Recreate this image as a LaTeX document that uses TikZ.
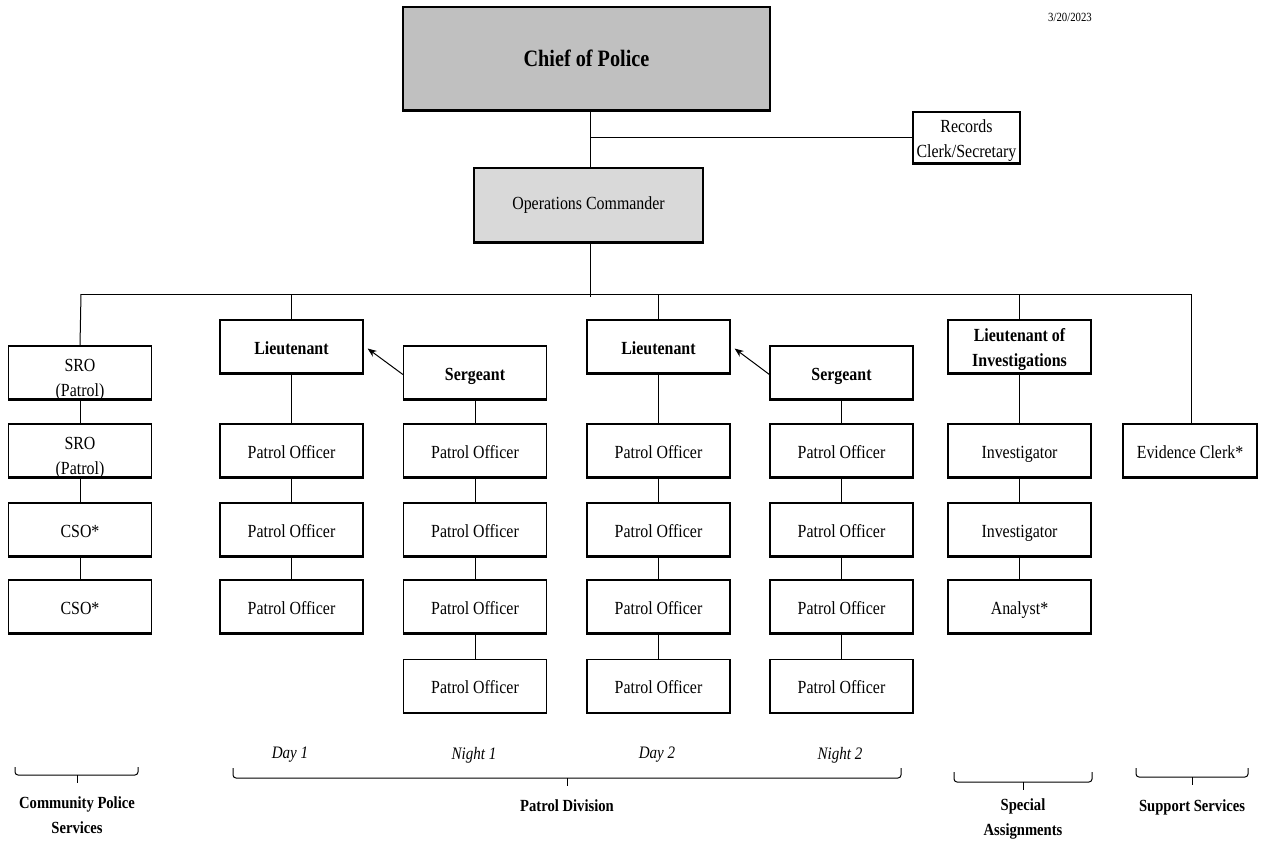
\documentclass[tikz,border=0pt]{standalone}
\usepackage{fontspec}
\setmainfont{Liberation Serif}[FakeStretch=0.86]
\usetikzlibrary{arrows.meta}
\definecolor{chiefgray}{HTML}{C0C0C0}
\definecolor{opsgray}{HTML}{D9D9D9}
\tikzset{
  box/.style={draw, line width=1.2pt, minimum width=143pt, minimum height=53pt,
    inner sep=0pt, align=center, text height=17pt, text depth=2pt,
    font=\fontsize{18.5}{24}\selectfont,
    append after command={(\tikzlastnode.south west) edge[line width=2.6pt] (\tikzlastnode.south east)}},
  bbox/.style={box, font=\fontsize{18.5}{24}\selectfont\bfseries},
  boxtext/.style={inner sep=0pt, align=center, font=\fontsize{18.5}{25}\selectfont},
  conn/.style={line width=1pt},
  arr/.style={line width=1pt, -{Stealth[length=9pt,width=7pt]}},
  brace/.style={line width=1pt, rounded corners=3pt},
  shiftlbl/.style={font=\fontsize{17.5}{18}\selectfont\itshape},
  grouplbl/.style={align=center, font=\fontsize{17}{25}\selectfont\bfseries},
}
\begin{document}
\begin{tikzpicture}[x=1pt,y=-1pt]
\useasboundingbox (0,0) rectangle (1263,846);

% top
\node[draw, line width=1.5pt, fill=chiefgray, minimum width=367pt, minimum height=103pt,
  font=\fontsize{23.5}{26}\selectfont\bfseries,
  append after command={(\tikzlastnode.south west) edge[line width=2.6pt] (\tikzlastnode.south east)}]
  (chief) at (586.5,58.5) {Chief of Police};
\node[draw, line width=1.5pt, fill=opsgray, minimum width=229pt, minimum height=74pt,
  font=\fontsize{18.5}{22}\selectfont,
  append after command={(\tikzlastnode.south west) edge[line width=2.6pt] (\tikzlastnode.south east)}]
  (ops) at (588.5,205) {Operations Commander};
\node[box, minimum width=107pt, minimum height=51pt] (records) at (966.5,137.5) {};
\node[boxtext] (recordst) at (966.5,141) {Records\\Clerk/Secretary};
\node[font=\fontsize{12.5}{14}\selectfont] (date) at (1070,17) {3/20/2023};

\coordinate (rj) at (590,140);
\draw[conn] (590,110) -- (590,168);
\draw[conn] (records.west) -- (records.west -| rj);

% bus
\coordinate (bL) at (81,294);
\coordinate (bR) at (1191,294);
\draw[conn] (ops.south -| rj) -- (590,297);
\draw[conn] (bL) -- (bR);

% community column
\node[box] (sro1) at (80,372.5) {};
\node[boxtext] (sro1t) at (80,380) {SRO\\(Patrol)};
\node[box] (sro2) at (80,450.5) {};
\node[boxtext] (sro2t) at (80,458) {SRO\\(Patrol)};
\node[box] (cso1) at (80,529.5) {CSO*};
\node[box] (cso2) at (80,606.5) {CSO*};
\draw[conn] (bL) -- (sro1.north);
\draw[conn] (sro1.south) -- (sro2.north);
\draw[conn] (sro2.south) -- (cso1.north);
\draw[conn] (cso1.south) -- (cso2.north);

% Lieutenant 1
\node[bbox] (lt1) at (291.5,346.5) {Lieutenant};
\node[box] (lt1a) at (291.5,450.5) {Patrol Officer};
\node[box] (lt1b) at (291.5,529.5) {Patrol Officer};
\node[box] (lt1c) at (291.5,606.5) {Patrol Officer};
\draw[conn] (lt1.north |- bL) -- (lt1.north);
\draw[conn] (lt1.south) -- (lt1a.north);
\draw[conn] (lt1a.south) -- (lt1b.north);
\draw[conn] (lt1b.south) -- (lt1c.north);

% Sergeant 1
\node[bbox] (sg1) at (475,372.5) {Sergeant};
\node[box] (sg1a) at (475,450.5) {Patrol Officer};
\node[box] (sg1b) at (475,529.5) {Patrol Officer};
\node[box] (sg1c) at (475,606.5) {Patrol Officer};
\node[box] (sg1d) at (475,686) {Patrol Officer};
\draw[conn] (sg1.south) -- (sg1a.north);
\draw[conn] (sg1a.south) -- (sg1b.north);
\draw[conn] (sg1b.south) -- (sg1c.north);
\draw[conn] (sg1c.south) -- (sg1d.north);
\draw[arr] ([yshift=-2pt]sg1.west) -- ([xshift=4pt,yshift=-2pt]lt1.east);

% Lieutenant 2
\node[bbox] (lt2) at (658.5,346.5) {Lieutenant};
\node[box] (lt2a) at (658.5,450.5) {Patrol Officer};
\node[box] (lt2b) at (658.5,529.5) {Patrol Officer};
\node[box] (lt2c) at (658.5,606.5) {Patrol Officer};
\node[box] (lt2d) at (658.5,686) {Patrol Officer};
\draw[conn] (lt2.north |- bL) -- (lt2.north);
\draw[conn] (lt2.south) -- (lt2a.north);
\draw[conn] (lt2a.south) -- (lt2b.north);
\draw[conn] (lt2b.south) -- (lt2c.north);
\draw[conn] (lt2c.south) -- (lt2d.north);

% Sergeant 2
\node[bbox] (sg2) at (841.5,372.5) {Sergeant};
\node[box] (sg2a) at (841.5,450.5) {Patrol Officer};
\node[box] (sg2b) at (841.5,529.5) {Patrol Officer};
\node[box] (sg2c) at (841.5,606.5) {Patrol Officer};
\node[box] (sg2d) at (841.5,686) {Patrol Officer};
\draw[conn] (sg2.south) -- (sg2a.north);
\draw[conn] (sg2a.south) -- (sg2b.north);
\draw[conn] (sg2b.south) -- (sg2c.north);
\draw[conn] (sg2c.south) -- (sg2d.north);
\draw[arr] ([yshift=-2pt]sg2.west) -- ([xshift=4pt,yshift=-2pt]lt2.east);

% Investigations
\node[bbox, align=center] (lti) at (1019.5,346.5) {};
\node[boxtext, font=\fontsize{18.5}{25}\selectfont\bfseries] (ltit) at (1019.5,349.5) {Lieutenant of\\Investigations};
\node[box] (inv1) at (1019.5,450.5) {Investigator};
\node[box] (inv2) at (1019.5,529.5) {Investigator};
\node[box] (ana) at (1019.5,606.5) {Analyst*};
\draw[conn] (lti.north |- bL) -- (lti.north);
\draw[conn] (lti.south) -- (inv1.north);
\draw[conn] (inv1.south) -- (inv2.north);
\draw[conn] (inv2.south) -- (ana.north);

% Evidence
\node[box, minimum width=134pt] (evid) at (1190,450.5) {Evidence Clerk*};
\draw[conn] (bR) -- (bR |- evid.north);

% shift labels
\node[shiftlbl] (d1) at (290,755) {Day 1};
\node[shiftlbl] (n1) at (474,755) {Night 1};
\node[shiftlbl] (d2) at (657,755) {Day 2};
\node[shiftlbl] (n2) at (840,755) {Night 2};

% brackets
\draw[brace] (15,767) -- (15,775) -- (138,775) -- (138,767);
\draw[brace] (77,775) -- (77,783);
\draw[brace] (233,768) -- (233,778) -- (901,778) -- (901,768);
\draw[brace] (567,778) -- (567,786);
\draw[brace] (954,772) -- (954,782) -- (1092,782) -- (1092,772);
\draw[brace] (1023,782) -- (1023,790);
\draw[brace] (1136,768) -- (1136,777) -- (1248,777) -- (1248,768);
\draw[brace] (1192,777) -- (1192,785);

\node[grouplbl] (gcom) at (77,815.5) {Community Police\\Services};
\node[grouplbl] (gpat) at (567,806) {Patrol Division};
\node[grouplbl] (gspe) at (1023,818.5) {Special\\Assignments};
\node[grouplbl] (gsup) at (1192,807) {Support Services};
\end{tikzpicture}
\end{document}
